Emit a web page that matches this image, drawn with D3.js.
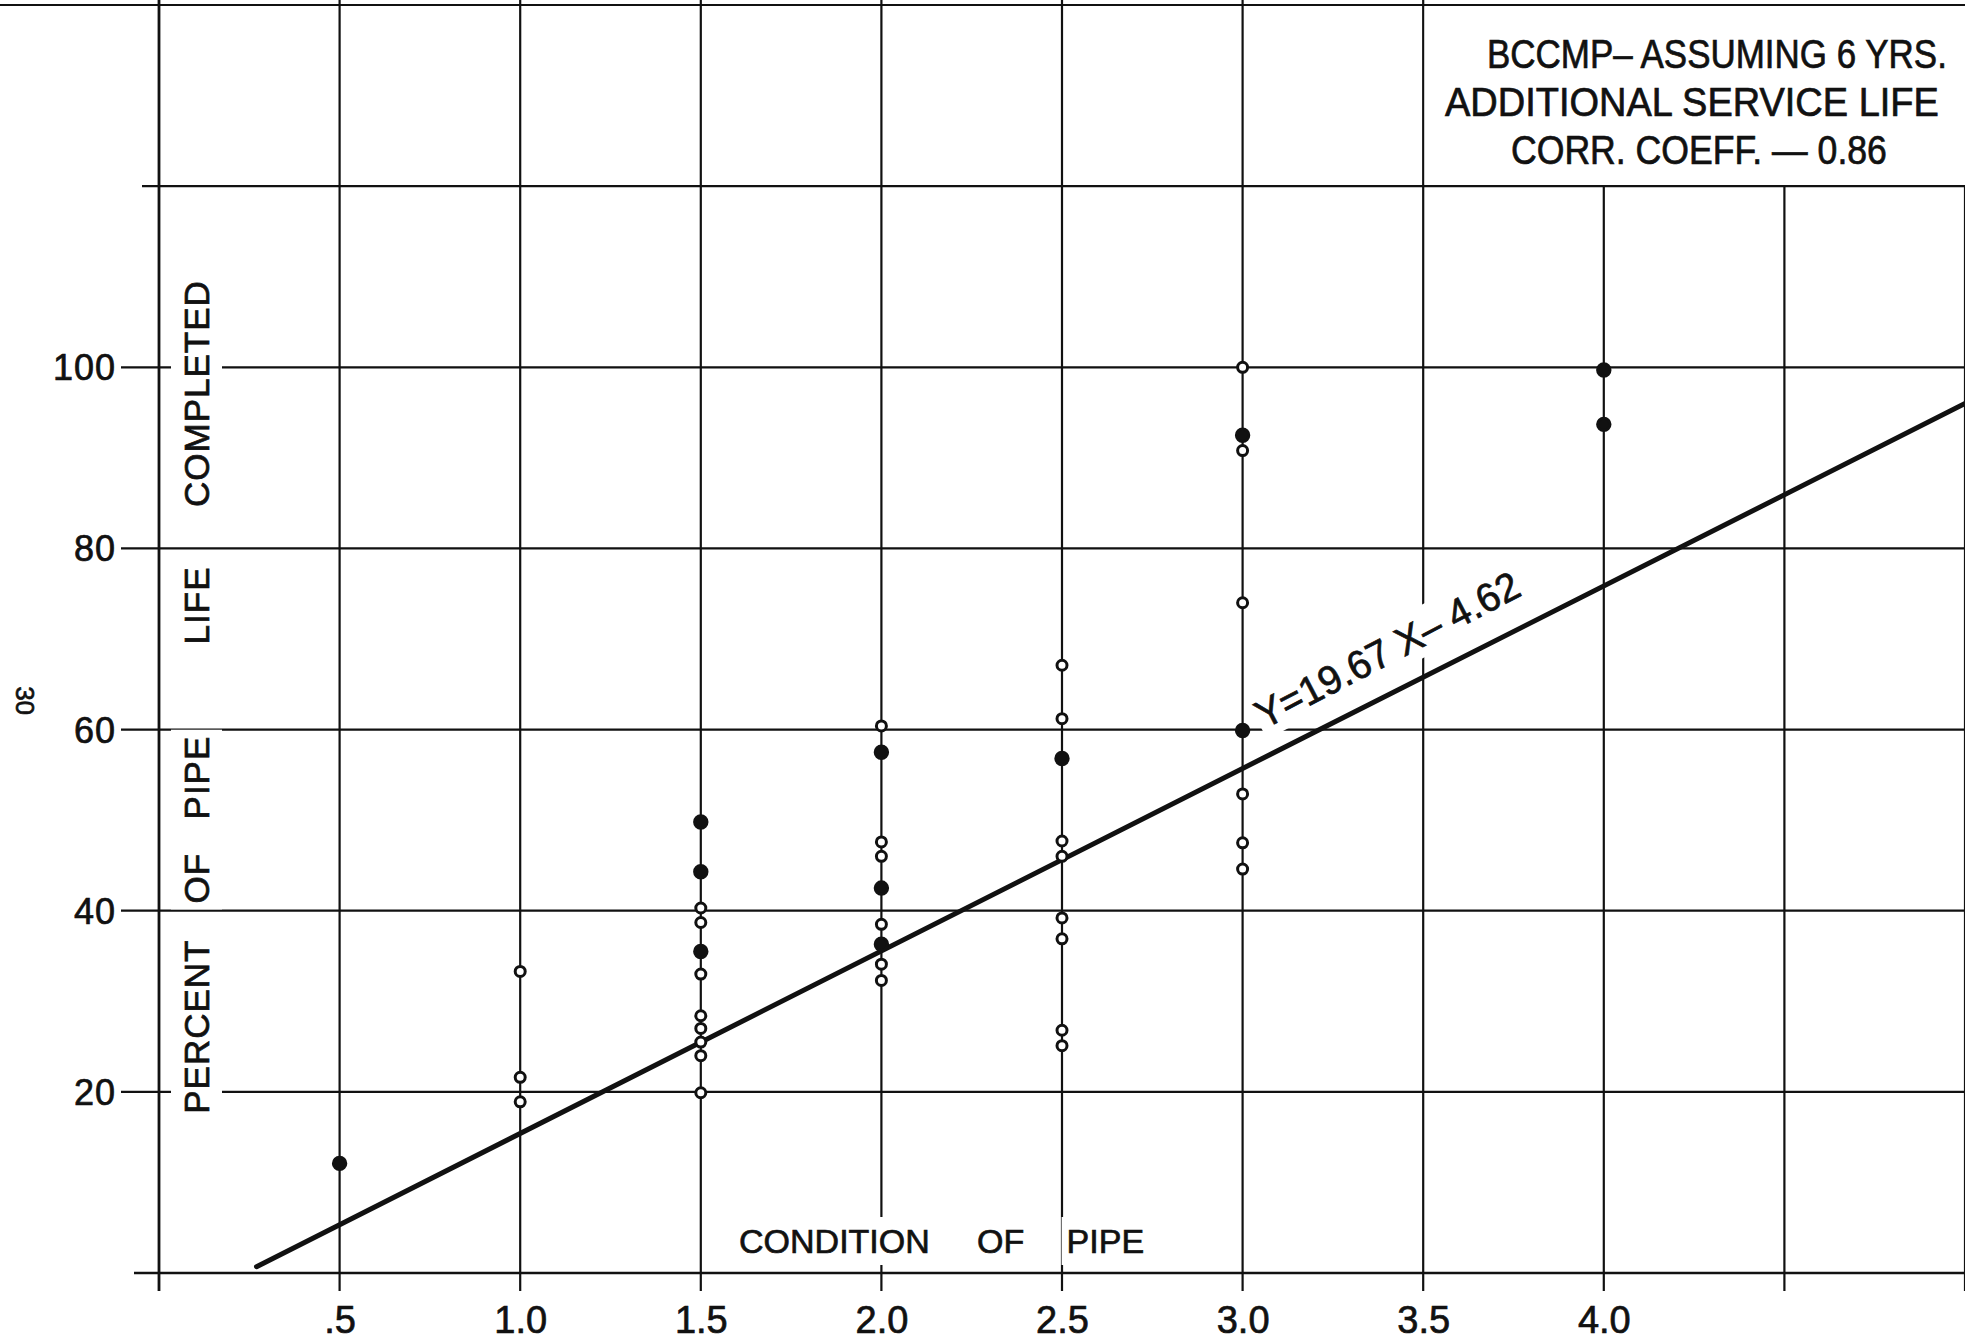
<!DOCTYPE html>
<html>
<head>
<meta charset="utf-8">
<script src="https://cdn.jsdelivr.net/npm/d3@7"></script>
<style>
  html, body { margin: 0; padding: 0; background: #fff; }
  svg { display: block; }
  text { font-family: "Liberation Sans", Arial, sans-serif; fill: #111; stroke: #111; stroke-width: 0.7px; }
</style>
</head>
<body>
<div id="chart"></div>
<script>
// condition of pipe (x) columns, and percent of pipe life completed at each
const conditions = [0.5, 1.0, 1.5, 2.0, 2.5, 3.0, 4.0];
const percentLife = [
  [12.1],
  [33.3, 21.6, 18.9],
  [49.8, 44.3, 40.3, 38.7, 35.5, 33.0, 28.4, 27.0, 25.5, 24.0, 19.9],
  [60.4, 57.5, 47.6, 46.0, 42.5, 38.5, 36.3, 34.1, 32.3],
  [67.1, 61.2, 56.8, 47.7, 46.0, 39.2, 36.9, 26.8, 25.1],
  [100, 92.5, 90.8, 74.0, 59.9, 52.9, 47.5, 44.6],
  [99.7, 93.7]
];
// 1 = solid dot, 0 = open circle
const solidDot = [
  [1],
  [0, 0, 0],
  [1, 1, 0, 0, 1, 0, 0, 0, 0, 0, 0],
  [0, 1, 0, 0, 1, 0, 1, 0, 0],
  [0, 0, 1, 0, 0, 0, 0, 0, 0],
  [0, 1, 0, 0, 1, 0, 0, 0],
  [1, 1]
];

// fitted line as drawn on the sheet (ends)
const fitX = [0.27, 5.0];
const fitY = [0.7, 96.0];
const fitLabel = "Y=19.67 X\u2013 4.62";

const xGrid = [0, 0.5, 1.0, 1.5, 2.0, 2.5, 3.0, 3.5, 4.0, 4.5, 5.0];
const xTickValues = [0.5, 1.0, 1.5, 2.0, 2.5, 3.0, 3.5, 4.0];
const xTickLabels = [".5", "1.0", "1.5", "2.0", "2.5", "3.0", "3.5", "4.0"];
const yGrid = [0, 20, 40, 60, 80, 100, 120, 140];
const yTickValues = [20, 40, 60, 80, 100];
const yTickLabels = ["20", "40", "60", "80", "100"];

const yTitleWords = ["PERCENT", "OF", "PIPE", "LIFE", "COMPLETED"];
const xTitleWords = ["CONDITION", "OF", "PIPE"];
const noteLines = ["BCCMP\u2013 ASSUMING 6 YRS.", "ADDITIONAL  SERVICE  LIFE", "CORR.  COEFF. \u2014 0.86"];

const width = 1965, height = 1340;
const x = d3.scaleLinear().domain([0, 5]).range([159, 1965]);
const y = d3.scaleLinear().domain([0, 140]).range([1273, 5]);

const svg = d3.select("#chart").append("svg")
  .attr("width", width).attr("height", height);

const ink = "#111";

// white box behind a text element, so the grid is broken around lettering
function knockout(sel, pad) {
  sel.each(function () {
    const b = this.getBBox();
    d3.select(this.parentNode).insert("rect", () => this)
      .attr("x", b.x - pad).attr("y", b.y - pad)
      .attr("width", b.width + 2 * pad).attr("height", b.height + 2 * pad)
      .attr("fill", "#fff");
  });
}

// horizontal grid
const grid = svg.append("g").attr("stroke", ink).attr("fill", "none");
grid.selectAll(".hline")
  .data(yGrid)
  .enter().append("line")
  .attr("x1", d => d === 140 ? 0 : (d === 0 ? 134 : (d === 120 ? 142 : 121)))
  .attr("x2", width)
  .attr("y1", d => y(d)).attr("y2", d => y(d))
  .attr("stroke-width", d => d === 0 ? 2.6 : 2.2);

// vertical grid (4.0 and 4.5 stop at the note box)
grid.selectAll(".vline")
  .data(xGrid)
  .enter().append("line")
  .attr("x1", d => x(d)).attr("x2", d => x(d))
  .attr("y1", d => d > 3.5 ? y(120) : 0)
  .attr("y2", y(0) + 18)
  .attr("stroke-width", d => d === 0 ? 2.8 : 2.2);

// y tick labels
svg.append("g")
  .selectAll("text")
  .data(yTickValues)
  .enter().append("text")
  .attr("x", x(0) - 43)
  .attr("y", d => y(d))
  .attr("dy", "0.36em")
  .attr("text-anchor", "end")
  .attr("font-size", 36)
  .attr("letter-spacing", 1)
  .text((d, i) => yTickLabels[i]);

// x tick labels
svg.append("g")
  .attr("transform", `translate(0,${y(0) + 60})`)
  .call(d3.axisBottom(x).tickValues(xTickValues).tickSize(0).tickPadding(0)
    .tickFormat((d, i) => xTickLabels[i]))
  .call(g => g.select(".domain").remove())
  .selectAll("text")
  .attr("dy", 0)
  .attr("font-size", 38)
  .attr("font-family", "'Liberation Sans Narrow', 'Liberation Sans', sans-serif")
  .attr("fill", ink);

// y axis title, word by word along the axis
const yTitlePos = [27.2, 43.6, 54.7, 73.7, 97.1];
const yTitle = svg.append("g");
yTitleWords.forEach((w, i) => {
  const g = yTitle.append("g")
    .attr("transform", `translate(${x(0) + 50},${y(yTitlePos[i])}) rotate(-90)`);
  const t = g.append("text")
    .attr("text-anchor", "middle")
    .attr("font-size", 35)
    .attr("letter-spacing", 1)
    .text(w);
  knockout(t, 6);
});

// x axis title
const xTitlePos = [1.87, 2.33, 2.62];
const xTitle = svg.append("g");
xTitleWords.forEach((w, i) => {
  const t = xTitle.append("text")
    .attr("x", x(xTitlePos[i]))
    .attr("y", y(0) - 20)
    .attr("text-anchor", "middle")
    .attr("font-size", 34)
    .text(w);
  knockout(t, 5);
});

// fitted line
svg.append("path")
  .datum(fitX.map((v, i) => [v, fitY[i]]))
  .attr("fill", "none")
  .attr("stroke", ink)
  .attr("stroke-width", 5)
  .attr("stroke-linecap", "round")
  .attr("d", d3.line().x(d => x(d[0])).y(d => y(d[1])));

// equation label
const eq = svg.append("g")
  .attr("transform", `translate(${x(3.06)},${y(60.0)}) rotate(-27.5)`);
const eqText = eq.append("text")
  .attr("font-size", 40)
  .attr("textLength", 292)
  .attr("lengthAdjust", "spacingAndGlyphs")
  .text(fitLabel);
knockout(eqText, 2);

// data points
const points = [];
conditions.forEach((c, i) => {
  percentLife[i].forEach((v, j) => points.push({ c: c, v: v, solid: solidDot[i][j] }));
});
svg.append("g")
  .selectAll("circle")
  .data(points)
  .enter().append("circle")
  .attr("cx", d => x(d.c))
  .attr("cy", d => y(d.v))
  .attr("r", d => d.solid ? 6.2 : 5)
  .attr("fill", d => d.solid ? ink : "#fff")
  .attr("stroke", ink)
  .attr("stroke-width", 3);

// note box in the upper right
const note = svg.append("g");
note.append("rect")
  .attr("x", x(3.5) + 1.5).attr("y", y(140) + 1.5)
  .attr("width", width - x(3.5)).attr("height", y(120) - y(140) - 3)
  .attr("fill", "#fff");
const noteX = [1487, 1445, 1511];
const noteW = [460, 494, 376];
noteLines.forEach((line, i) => {
  const g = note.append("g");
  const t = g.append("text")
    .attr("y", 68 + i * 48)
    .attr("font-size", 40)
    .text(line);
  // squeeze the lettering horizontally to its width on the sheet
  const k = noteW[i] / t.node().getComputedTextLength();
  g.attr("transform", `translate(${noteX[i]},0) scale(${k},1)`);
});

// page number in the margin
svg.append("text")
  .attr("transform", `translate(16,${y(63.2)}) rotate(90)`)
  .attr("text-anchor", "middle")
  .attr("font-size", 26)
  .attr("font-family", "'Liberation Serif', serif")
  .attr("fill", "#444")
  .attr("stroke", "none")
  .text("30");
</script>
</body>
</html>
